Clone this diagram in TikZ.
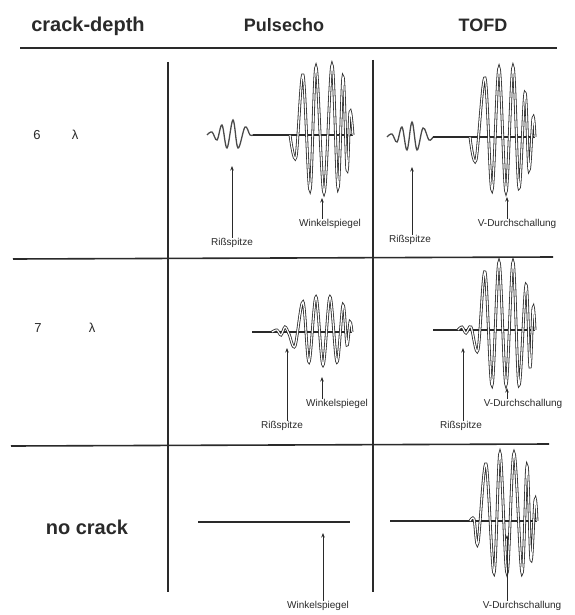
\documentclass[tikz,border=0pt]{standalone}
\usepackage{fontspec}
\setmainfont{Liberation Sans}
\usetikzlibrary{arrows.meta}
\definecolor{ink}{HTML}{2A2A2A}
\tikzset{
  grid/.style={draw=ink, line width=1.6pt},
  base/.style={draw=ink, line width=1.1pt},
  small/.style={draw=ink!85, line width=1.3pt, smooth, tension=0.6},
  burst/.style={draw=ink, line width=0.8pt, double=white, double distance=1.2pt, smooth, tension=0.55},
  lbl/.style={font=\fontsize{10}{11}\selectfont, text=ink, inner sep=0pt},
  head/.style={font=\fontsize{18}{20}\selectfont\bfseries, text=ink, inner sep=0pt},
  rowlbl/.style={font=\fontsize{13}{14}\selectfont, text=ink, inner sep=0pt},
  pointer/.style={draw=ink, line width=1pt, -{Stealth[length=4.5pt,width=3.5pt]}}
}
\begin{document}
\begin{tikzpicture}[x=1pt,y=-1pt]
\useasboundingbox[fill=white] (0,0) rectangle (574,615);

% header
\node[head,font=\fontsize{20}{22}\selectfont\bfseries] (hcd) at (88,26) {crack-depth};
\node[head] (hpe) at (284,25) {Pulsecho};
\node[head] (htofd) at (483,25) {TOFD};

% grid
\coordinate (h0a) at (20,48);  \coordinate (h0b) at (557,48);
\coordinate (h1a) at (13,259); \coordinate (h1b) at (553,257);
\coordinate (h2a) at (11,446); \coordinate (h2b) at (549,444);
\coordinate (v1a) at (168,62); \coordinate (v1b) at (168,592);
\coordinate (v2a) at (373,60); \coordinate (v2b) at (373,592);
\draw[grid] (h0a) -- (h0b);
\draw[grid] (h1a) -- (h1b);
\draw[grid] (h2a) -- (h2b);
\draw[grid] (v1a) -- (v1b);
\draw[grid] (v2a) -- (v2b);

% row labels
\node[rowlbl] (r1n) at (37,135) {6};
\node[rowlbl] (r1l) at (75,135) {λ};
\node[rowlbl] (r2n) at (38,328) {7};
\node[rowlbl] (r2l) at (92,328) {λ};
\node[head,font=\fontsize{20}{22}\selectfont\bfseries] (r3) at (87,527) {no crack};

% ---------- row 1, pulse echo
\draw[small] plot coordinates {(207,135) (212,132) (217,140) (222,125) (227,148) (233,120) (238,148) (245,127) (250,135) (253,135)};
\draw[base] (253,135) -- (353,135);
\draw[burst] plot coordinates {(290,135) (296,157) (303,75) (310,190) (316,67) (324,193) (332,65) (338,188) (343,77) (347,170) (350,112) (353,135)};
\node[lbl] (pe1r) at (232,243) {Rißspitze};
\coordinate (pe1rt) at (232,166);
\draw[pointer] (pe1r.north) -- (pe1rt);
\node[lbl] (pe1w) at (330,224) {Winkelspiegel};
\coordinate (pe1wt) at (322,198);
\draw[pointer] (pe1w.north -| pe1wt) -- (pe1wt);

% ---------- row 1, TOFD
\draw[small] plot coordinates {(387,137) (392,134) (397,142) (402,127) (407,150) (412,122) (417,150) (423,128) (429,140) (433,137)};
\draw[base] (433,137) -- (535,137);
\draw[burst] plot coordinates {(470,137) (476,160) (485,78) (492,190) (499,68) (506,192) (513,67) (519,188) (525,93) (529,170) (533,118) (535,137)};
\node[lbl] (to1r) at (410,240) {Rißspitze};
\coordinate (to1rt) at (412,167);
\draw[pointer] (to1r.north -| to1rt) -- (to1rt);
\node[lbl] (to1v) at (517,224) {V-Durchschallung};
\coordinate (to1vt) at (507,197);
\draw[pointer] (to1v.north -| to1vt) -- (to1vt);

% ---------- row 2, pulse echo
\draw[base] (252,332) -- (352,332);
\draw[burst] plot coordinates {(272,332) (277,330) (281,335) (285,327) (289,334) (295,346) (303,302) (309,362) (316,297) (323,365) (330,297) (337,362) (343,305) (347,345) (350,322) (352,332)};
\node[lbl] (pe2r) at (282,426) {Rißspitze};
\coordinate (pe2rt) at (287,348);
\draw[pointer] (pe2r.north -| pe2rt) -- (pe2rt);
\node[lbl] (pe2w) at (337,404) {Winkelspiegel};
\coordinate (pe2wt) at (322,377);
\draw[pointer] (pe2w.north -| pe2wt) -- (pe2wt);

% ---------- row 2, TOFD
\draw[base] (433,330) -- (535,330);
\draw[burst] plot coordinates {(458,330) (462,327) (466,333) (471,327) (478,350) (485,272) (492,385) (499,262) (506,385) (513,262) (519,385) (526,285) (530,367) (533,308) (535,330)};
\node[lbl] (to2r) at (461,426) {Rißspitze};
\coordinate (to2rt) at (463,348);
\draw[pointer] (to2r.north -| to2rt) -- (to2rt);
\node[lbl] (to2v) at (523,404) {V-Durchschallung};
\coordinate (to2vt) at (507,388);
\draw[pointer] (to2v.north -| to2vt) -- (to2vt);

% ---------- row 3, pulse echo
\draw[base] (198,522) -- (350,522);
\node[lbl] (pe3w) at (318,606) {Winkelspiegel};
\coordinate (pe3wt) at (323,533);
\draw[pointer] (pe3w.north -| pe3wt) -- (pe3wt);

% ---------- row 3, TOFD
\draw[base] (390,521) -- (537,521);
\draw[burst] plot coordinates {(470,521) (474,519) (478,543) (486,464) (494,573) (500,453) (507,573) (514,453) (522,573) (527,466) (531,560) (535,500) (537,521)};
\node[lbl] (to3v) at (522,606) {V-Durchschallung};
\coordinate (to3vt) at (507,535);
\draw[pointer] (to3v.north -| to3vt) -- (to3vt);
\end{tikzpicture}
\end{document}
